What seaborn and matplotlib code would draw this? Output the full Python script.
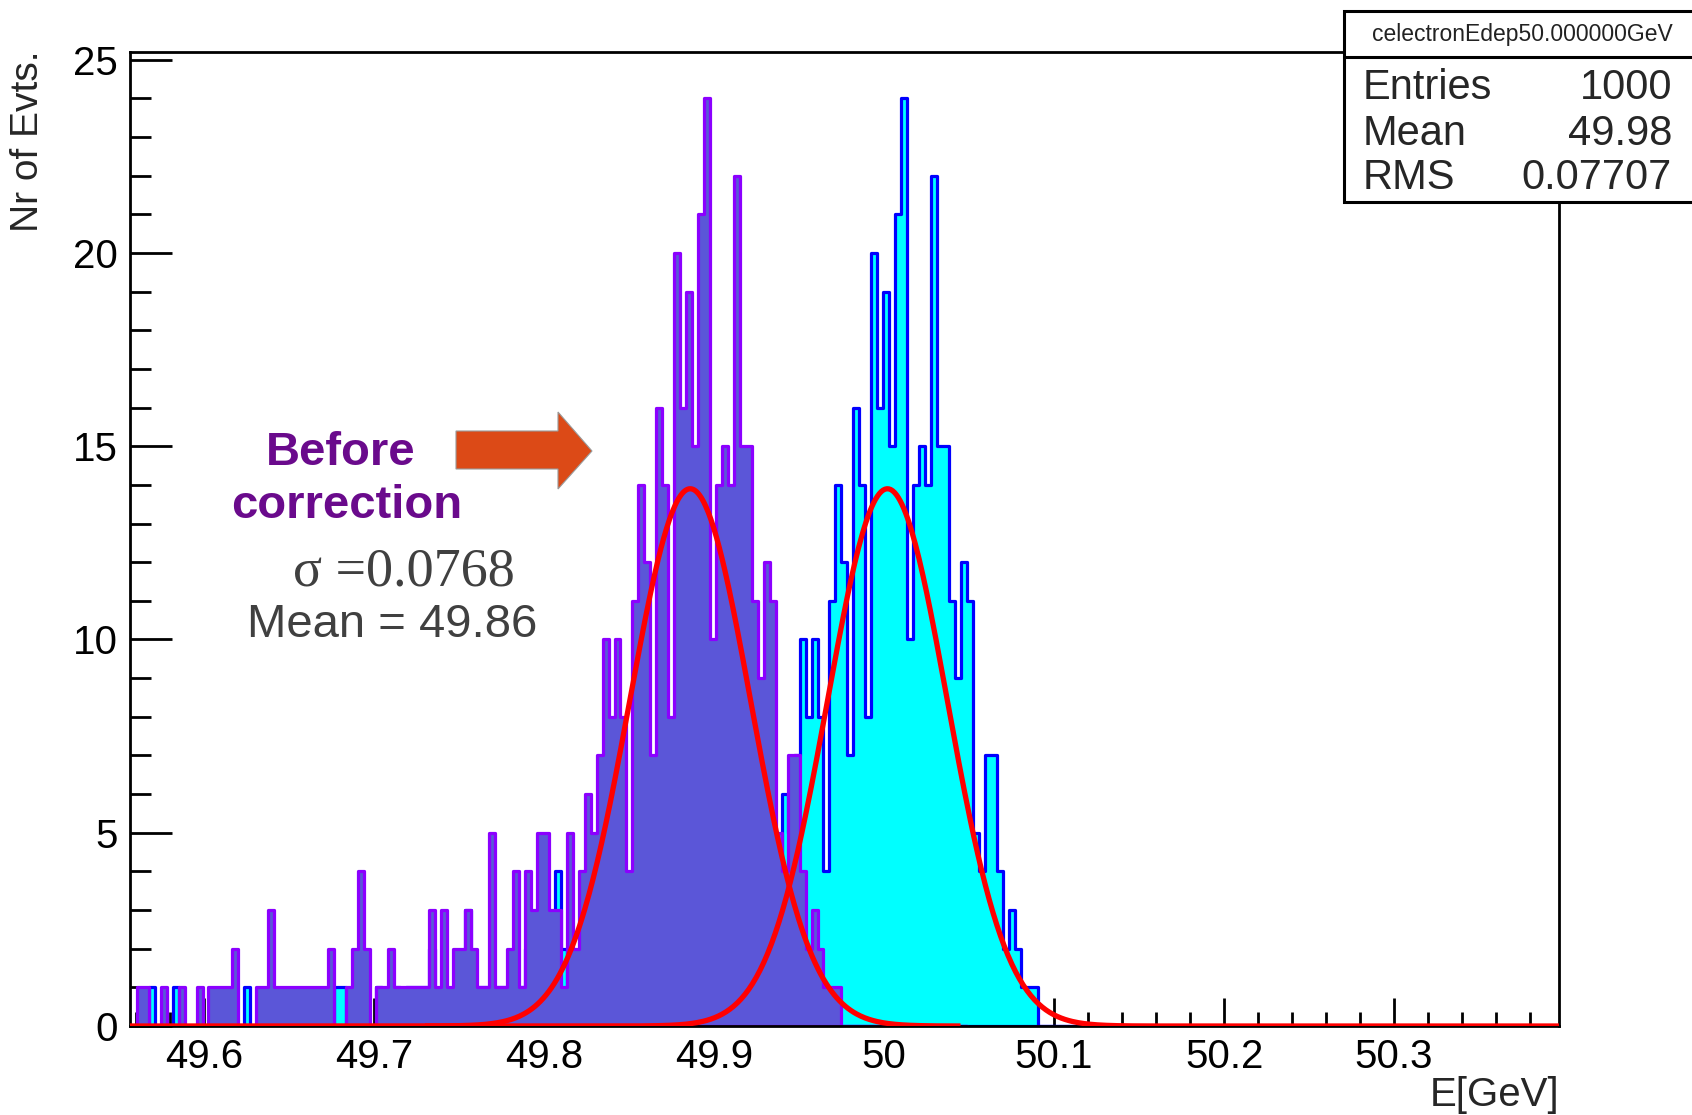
import numpy as np
import pandas as pd
import seaborn as sns
import matplotlib.pyplot as plt
from matplotlib.patches import Rectangle, Polygon
from matplotlib.lines import Line2D
from matplotlib.ticker import MultipleLocator, FuncFormatter

# ================= DATA =================
BIN_WIDTH = 0.003512      # GeV
FIRST_EDGE = 49.5570      # GeV, left edge of the first bin
X_RANGE = (49.5565, 50.397)
Y_RANGE = (0, 25.2)

# before correction (purple), counts per bin starting at FIRST_EDGE
before_counts = [
    0, 1, 1, 0, 0, 1, 0, 0, 1, 0, 0, 1, 0, 1, 1, 1, 1, 2, 0, 0,
    0, 1, 1, 3, 1, 1, 1, 1, 1, 1, 1, 1, 1, 2, 0, 0, 1, 2, 4, 2,
    0, 1, 1, 2, 1, 1, 1, 1, 1, 1, 3, 1, 3, 1, 2, 2, 3, 2, 1, 1,
    5, 1, 1, 2, 4, 1, 4, 3, 5, 5, 3, 3, 1, 5, 2, 4, 6, 5, 7, 10,
    8, 10, 8, 4, 11, 14, 12, 7, 16, 14, 8, 20, 16, 19, 15, 21, 24, 10, 14, 15,
    14, 22, 15, 15, 11, 9, 12, 11, 5, 4, 7, 7, 4, 2, 3, 2, 1, 1, 1, 0,
    0, 0, 0, 0, 0, 0, 0, 0, 0, 0, 0, 0, 0, 0, 0, 0, 0, 0, 0, 0,
]
# after correction (cyan): same events moved up by 33 bins, plus the
# few low entries that show at the far left of the axis
after_low_tail = [
    0, 0, 0, 1, 0, 0, 0, 1, 0, 0, 0, 0, 0, 0, 0, 0, 0, 0, 0, 1,
    0, 0, 0, 0, 0, 0, 0, 0, 0, 0, 0, 0, 0,
]
after_counts = after_low_tail + before_counts

# gaussian fits (red)
fit_amp = [13.9, 13.9]
fit_mean = [49.886, 50.002]
fit_sigma = [0.0355, 0.0352]
fit_lo = [49.5565, 49.730]
fit_hi = [50.045, 50.397]

stats_title = "celectronEdep50.000000GeV"
stats_names = ["Entries", "Mean", "RMS"]
stats_values = ["1000", "49.98", "0.07707"]
# ===============================================================

W, H = 1692, 1115


def fx(px):
    return px / W


def fy(py):
    return 1 - py / H


def hist_frame(counts):
    counts = np.asarray(counts, dtype=float)
    edges = FIRST_EDGE + BIN_WIDTH * np.arange(len(counts) + 1)
    centers = 0.5 * (edges[:-1] + edges[1:])
    return pd.DataFrame({"E": centers, "n": counts}), edges.tolist()


sns.set_theme(style="ticks")
plt.rcParams["font.family"] = ["Liberation Sans", "DejaVu Sans"]

fig = plt.figure(figsize=(W / 100, H / 100), dpi=100)
ax = fig.add_axes([fx(130), fy(1026), (1559 - 130) / W, (1026 - 52) / H])

df_after, edges_after = hist_frame(after_counts)
df_before, edges_before = hist_frame(before_counts)

sns.histplot(data=df_after, x="E", weights="n", bins=edges_after,
             element="step", fill=True, alpha=1,
             facecolor="#00ffff", edgecolor="#0000ff", linewidth=2.3, ax=ax)
sns.histplot(data=df_before, x="E", weights="n", bins=edges_before,
             element="step", fill=True, alpha=1,
             facecolor="#5b56d8", edgecolor="#8b00ff", linewidth=2.3, ax=ax)

for a, m, s, lo, hi in zip(fit_amp, fit_mean, fit_sigma, fit_lo, fit_hi):
    xs = np.linspace(lo, hi, 600)
    ys = a * np.exp(-0.5 * ((xs - m) / s) ** 2)
    ax.plot(xs, ys, color="#ff0000", lw=3.8, zorder=5, solid_capstyle="butt")

ax.set_xlim(*X_RANGE)
ax.set_ylim(*Y_RANGE)
ax.set_xlabel("")
ax.set_ylabel("")

ax.xaxis.set_major_locator(MultipleLocator(0.1))
ax.xaxis.set_minor_locator(MultipleLocator(0.02))
ax.yaxis.set_major_locator(MultipleLocator(5))
ax.yaxis.set_minor_locator(MultipleLocator(1))
ax.xaxis.set_major_formatter(FuncFormatter(lambda v, p: f"{round(v, 2):g}"))
ax.yaxis.set_major_formatter(FuncFormatter(lambda v, p: f"{v:g}"))

ax.tick_params(axis="both", which="both", direction="in", width=2,
               colors="black", top=False, right=False)
ax.tick_params(axis="x", which="major", length=20, pad=9, labelsize=29)
ax.tick_params(axis="x", which="minor", length=10)
ax.tick_params(axis="y", which="major", length=30, pad=9, labelsize=29)
ax.tick_params(axis="y", which="minor", length=15)
for sp in ax.spines.values():
    sp.set_linewidth(2.0)
    sp.set_color("black")
ax.set_facecolor("white")

# axis titles
fig.text(fx(1559), fy(1095), "E[GeV]", ha="right", va="center", fontsize=29)
fig.text(fx(28), fy(50), "Nr of Evts.", rotation=90, ha="center", va="top",
         fontsize=28)

# annotation
fig.text(fx(341), fy(465), "Before", ha="center", va="baseline",
         fontsize=34, fontweight="bold", color="#6a0a8c")
fig.text(fx(347), fy(518), "correction", ha="center", va="baseline",
         fontsize=34, fontweight="bold", color="#6a0a8c")
fig.text(fx(404), fy(585), "σ =0.0768", ha="center", va="baseline",
         fontsize=39, color="#404040", family=["Liberation Serif", "DejaVu Serif"])
fig.text(fx(392), fy(637), "Mean = 49.86", ha="center", va="baseline",
         fontsize=34, color="#404040")

arrow_px = [(456, 431), (558, 431), (558, 412), (592, 451), (558, 489),
            (558, 469), (456, 469)]
fig.add_artist(Polygon([(fx(x), fy(y)) for x, y in arrow_px], closed=True,
                       transform=fig.transFigure, facecolor="#dc4a17",
                       edgecolor="#9a9a9a", lw=0.8))

# stats box
fig.add_artist(Rectangle((fx(1344), fy(202)), (1705 - 1344) / W, (202 - 11) / H,
                         transform=fig.transFigure, facecolor="white",
                         edgecolor="black", lw=2.2, zorder=4))
fig.add_artist(Line2D([fx(1344), fx(1700)], [fy(57), fy(57)],
                      transform=fig.transFigure, color="black", lw=2.2, zorder=5))
fig.text(fx(1522), fy(34), stats_title, ha="center", va="center",
         fontsize=16.5, color="#222222", zorder=6)
for k, (name, val) in enumerate(zip(stats_names, stats_values)):
    yy = [99, 145, 189][k]
    fig.text(fx(1363), fy(yy), name, ha="left", va="baseline", fontsize=30, zorder=6)
    fig.text(fx(1672), fy(yy), val, ha="right", va="baseline", fontsize=30, zorder=6)

fig.savefig("out.png", dpi=100, facecolor="white")
